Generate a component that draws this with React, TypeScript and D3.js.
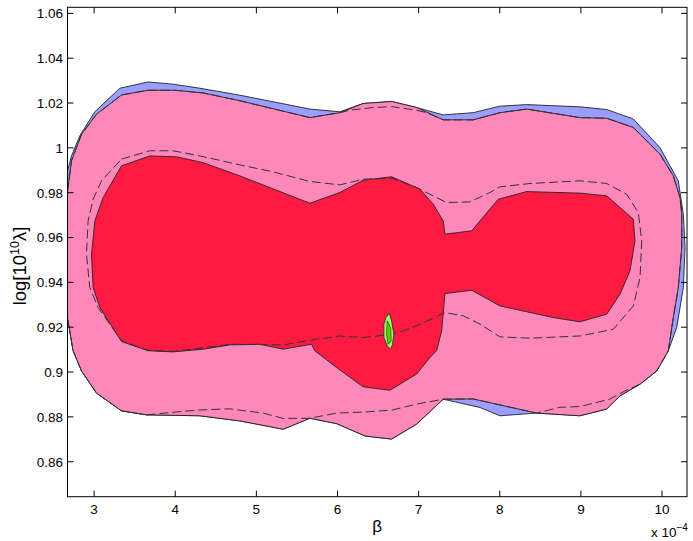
import React from 'react';
import * as d3 from 'd3';

type P = [number, number];

const W = 693;
const H = 541;

const xTicks = [3, 4, 5, 6, 7, 8, 9, 10];
const yTicks = [0.86, 0.88, 0.9, 0.92, 0.94, 0.96, 0.98, 1, 1.02, 1.04, 1.06];
const xDomain: P = [2.672, 10.308];
const yDomain: P = [0.8444, 1.0627];

// beta in units of 1e-4, log10(1e10 * lambda)
const blueRegion: P[] = [
  [2.577, 0.9585], [2.672, 0.9897], [2.721, 0.9964], [2.824, 1.0054], [3.009, 1.0161],
  [3.317, 1.0266], [3.666, 1.0294], [3.974, 1.0284], [4.303, 1.0266], [4.797, 1.0235],
  [5.66, 1.0173], [6.03, 1.0161], [6.317, 1.0198], [6.667, 1.0207], [6.975, 1.018],
  [7.303, 1.0147], [7.673, 1.0157], [8.002, 1.0186], [8.332, 1.0193], [8.989, 1.0183],
  [9.318, 1.0171], [9.646, 1.0129], [9.975, 1.0001], [10.201, 0.9853], [10.263, 0.9704],
  [10.284, 0.9555], [10.263, 0.9377], [10.181, 0.9198], [10.078, 0.9095], [9.935, 0.9005],
  [9.729, 0.8946], [9.482, 0.8894], [9.318, 0.8835], [8.989, 0.8805], [8.455, 0.8817],
  [8.002, 0.8805], [7.756, 0.8842], [7.303, 0.8879], [6.975, 0.8768], [6.667, 0.8701],
  [6.338, 0.8715], [5.989, 0.877], [5.66, 0.8794], [5.33, 0.8745], [5.002, 0.8768],
  [4.797, 0.8782], [4.303, 0.8805], [3.646, 0.8809], [3.338, 0.8827], [3.03, 0.8906],
  [2.845, 0.9005], [2.741, 0.9095], [2.679, 0.9228], [2.626, 0.9318],
];

const pinkRegion: P[] = [
  [2.577, 0.9585], [2.679, 0.9823], [2.721, 0.9942], [2.845, 1.0061], [3.03, 1.015],
  [3.338, 1.0236], [3.666, 1.0257], [3.995, 1.0257], [4.344, 1.0245], [4.797, 1.021],
  [5.66, 1.0135], [6.03, 1.0157], [6.317, 1.0198], [6.667, 1.0207], [6.975, 1.018],
  [7.303, 1.0125], [7.673, 1.0125], [8.002, 1.0157], [8.332, 1.0173], [8.989, 1.0135],
  [9.318, 1.0132], [9.646, 1.0091], [9.975, 0.9972], [10.139, 0.9875], [10.222, 0.9778],
  [10.243, 0.9706], [10.243, 0.9555], [10.201, 0.9377], [10.139, 0.9243], [10.078, 0.9095],
  [9.935, 0.9005], [9.729, 0.8946], [9.482, 0.8894], [9.318, 0.8835], [8.989, 0.8805],
  [8.455, 0.8817], [7.673, 0.888], [7.303, 0.8879], [6.975, 0.8768], [6.667, 0.8701],
  [6.338, 0.8715], [5.989, 0.877], [5.66, 0.8794], [5.33, 0.8745], [5.002, 0.8768],
  [4.797, 0.8782], [4.303, 0.8805], [3.646, 0.8809], [3.338, 0.8827], [3.03, 0.8906],
  [2.845, 0.9005], [2.741, 0.9095], [2.679, 0.9228], [2.626, 0.9318],
];

const redRegion: P[] = [
  [3.338, 0.992], [3.687, 0.9964], [4.016, 0.996], [4.344, 0.9934], [4.797, 0.9875],
  [5.66, 0.9753], [6.03, 0.9801], [6.317, 0.9856], [6.667, 0.9871], [7.016, 0.9816],
  [7.18, 0.9749], [7.303, 0.9674], [7.324, 0.9615], [7.654, 0.963], [7.982, 0.9771],
  [8.332, 0.9805], [8.989, 0.9798], [9.318, 0.9786], [9.646, 0.9682], [9.667, 0.9585],
  [9.605, 0.9451], [9.482, 0.9347], [9.318, 0.9258], [8.989, 0.9224], [8.66, 0.9243],
  [8.002, 0.9295], [7.654, 0.9365], [7.324, 0.935], [7.284, 0.9184], [7.222, 0.9095],
  [7.139, 0.9065], [6.975, 0.8991], [6.646, 0.8919], [6.317, 0.8934], [5.989, 0.902],
  [5.721, 0.9095], [5.681, 0.9124], [5.33, 0.9102], [5.043, 0.9124], [4.673, 0.9121],
  [4.344, 0.9102], [3.974, 0.909], [3.666, 0.9095], [3.338, 0.9136], [3.07, 0.9288],
  [2.988, 0.9377], [2.968, 0.9526], [3.009, 0.9674], [3.111, 0.9778],
];

const outerDashed: P[] = [
  [3.646, 0.8809], [4.016, 0.8822], [4.303, 0.8831], [4.673, 0.8836], [4.797, 0.883],
  [5.084, 0.8817], [5.33, 0.8793], [5.66, 0.8794], [5.989, 0.8817], [6.338, 0.8822],
  [6.667, 0.883], [6.975, 0.8857], [7.303, 0.8879], [7.673, 0.888], [8.455, 0.8817],
  [8.743, 0.8843], [8.989, 0.8846], [9.355, 0.8879], [9.544, 0.8916], [9.729, 0.8946],
  [9.935, 0.9005], [10.078, 0.9095], [10.139, 0.9243], [10.201, 0.9377], [10.243, 0.9555],
  [10.243, 0.9706], [10.222, 0.9778], [10.139, 0.9875], [9.975, 0.9972], [9.646, 1.0091],
  [9.318, 1.0132], [8.989, 1.0135], [8.332, 1.0173], [8.002, 1.0157], [7.673, 1.0125],
  [7.303, 1.0125], [7.098, 1.0157], [6.975, 1.0168], [6.667, 1.0184], [6.44, 1.018],
  [6.153, 1.0168], [6.03, 1.0157], [5.66, 1.0135], [4.797, 1.021], [4.344, 1.0245],
  [3.995, 1.0257], [3.666, 1.0257], [3.338, 1.0236], [3.03, 1.015], [2.845, 1.0061],
  [2.721, 0.9942], [2.679, 0.9823], [2.577, 0.9585], [2.626, 0.9318], [2.679, 0.9228],
  [2.741, 0.9095], [2.845, 0.9005], [3.03, 0.8906], [3.338, 0.8827],
];

const innerDashed: P[] = [
  [3.338, 0.995], [3.687, 0.9987], [3.974, 0.9987], [4.303, 0.9964], [4.797, 0.9924],
  [5.207, 0.9893], [5.66, 0.985], [6.03, 0.9835], [6.317, 0.986], [6.667, 0.9865],
  [6.975, 0.9823], [7.139, 0.9793], [7.345, 0.9756], [7.633, 0.9759], [7.879, 0.9801],
  [8.002, 0.9826], [8.372, 0.9841], [8.989, 0.9853], [9.318, 0.9841], [9.565, 0.9793],
  [9.708, 0.9711], [9.75, 0.9585], [9.729, 0.9421], [9.646, 0.9295], [9.4, 0.9191],
  [8.989, 0.9161], [8.372, 0.9151], [8.002, 0.9157], [7.756, 0.9214], [7.55, 0.9251],
  [7.324, 0.9265], [6.975, 0.9206], [6.687, 0.9169], [6.317, 0.9154], [6.03, 0.9161],
  [5.742, 0.9147], [5.33, 0.9121], [4.673, 0.9124], [4.344, 0.9108], [3.974, 0.9092],
  [3.666, 0.9097], [3.338, 0.9139], [3.049, 0.9288], [2.947, 0.9377], [2.906, 0.9526],
  [2.926, 0.9674], [2.988, 0.9771], [3.091, 0.9853],
];

const greenOuter: P[] = [
  [6.638, 0.9263], [6.667, 0.9228], [6.695, 0.9169], [6.679, 0.9124], [6.655, 0.9102],
  [6.613, 0.9117], [6.572, 0.9154], [6.572, 0.9214], [6.597, 0.9243],
];

const greenInner: P[] = [
  [6.613, 0.9228], [6.655, 0.9198], [6.662, 0.9139], [6.625, 0.9124], [6.605, 0.9169],
];

const FONT = '"Liberation Sans", Arial, Helvetica, sans-serif';

export default function App() {
  const x = d3.scaleLinear().domain(xDomain).range([67.5, 687]);
  const y = d3.scaleLinear().domain(yDomain).range([496.7, 7.3]);
  const line = d3.line<P>().x((d) => x(d[0])).y((d) => y(d[1]));
  const closed = (pts: P[]) => (line(pts) as string) + 'Z';
  const [x0, x1] = x.range();
  const [yb, yt] = y.range();
  const tickLen = 6;
  const fmt = (v: number) => String(+v.toFixed(2));

  return (
    <svg
      width={W}
      height={H}
      style={{ position: 'absolute', left: 0, top: 0, display: 'block', background: '#fff' }}
      fontFamily={FONT}
    >
      <defs>
        <clipPath id="plotClip">
          <rect x={x0} y={yt} width={x1 - x0} height={yb - yt} />
        </clipPath>
      </defs>
      <rect x={0} y={0} width={W} height={H} fill="#fff" />
      <g clipPath="url(#plotClip)">
        <path d={closed(blueRegion)} fill="#9a9eff" stroke="#222" strokeWidth={0.9} />
        <path d={closed(pinkRegion)} fill="#ff88bb" stroke="#222" strokeWidth={0.9} />
        <path d={closed(outerDashed)} fill="none" stroke="#333" strokeWidth={1} strokeDasharray="9,4" />
        <path d={closed(redRegion)} fill="#ff1a42" stroke="#222" strokeWidth={0.9} />
        <path d={closed(innerDashed)} fill="none" stroke="#333" strokeWidth={1} strokeDasharray="9,4" />
        <path d={closed(greenOuter)} fill="#a6f06a" stroke="#222" strokeWidth={0.8} />
        <path d={closed(greenInner)} fill="#55d400" stroke="#222" strokeWidth={0.6} />
      </g>
      {/* frame */}
      <rect x={x0} y={yt} width={x1 - x0} height={yb - yt} fill="none" stroke="#000" strokeWidth={1} />
      {xTicks.map((t) => (
        <g key={'x' + t}>
          <line x1={x(t)} x2={x(t)} y1={yb} y2={yb - tickLen} stroke="#000" />
          <line x1={x(t)} x2={x(t)} y1={yt} y2={yt + tickLen} stroke="#000" />
          <text x={x(t)} y={yb + 17.5} textAnchor="middle" fontSize={13.5} fill="#000">
            {t}
          </text>
        </g>
      ))}
      {yTicks.map((t) => (
        <g key={'y' + t}>
          <line x1={x0} x2={x0 + tickLen} y1={y(t)} y2={y(t)} stroke="#000" />
          <line x1={x1} x2={x1 - tickLen} y1={y(t)} y2={y(t)} stroke="#000" />
          <text x={x0 - 4.5} y={y(t) + 4.8} textAnchor="end" fontSize={13.5} fill="#000">
            {fmt(t)}
          </text>
        </g>
      ))}
      <text x={(x0 + x1) / 2 + 0} y={532} textAnchor="middle" fontSize={17} fill="#000">
        β
      </text>
      <text
        transform={`translate(26, ${(yt + yb) / 2 + 14}) rotate(-90)`}
        textAnchor="middle"
        fontSize={18.5}
        fill="#000"
      >
        log[10
        <tspan dy={-7.5} fontSize={12.5}>10</tspan>
        <tspan dy={7.5}>λ]</tspan>
      </text>
      <text x={651} y={536.5} fontSize={13.5} fill="#000">
        x 10
        <tspan dy={-6} fontSize={10}>−4</tspan>
      </text>
    </svg>
  );
}
